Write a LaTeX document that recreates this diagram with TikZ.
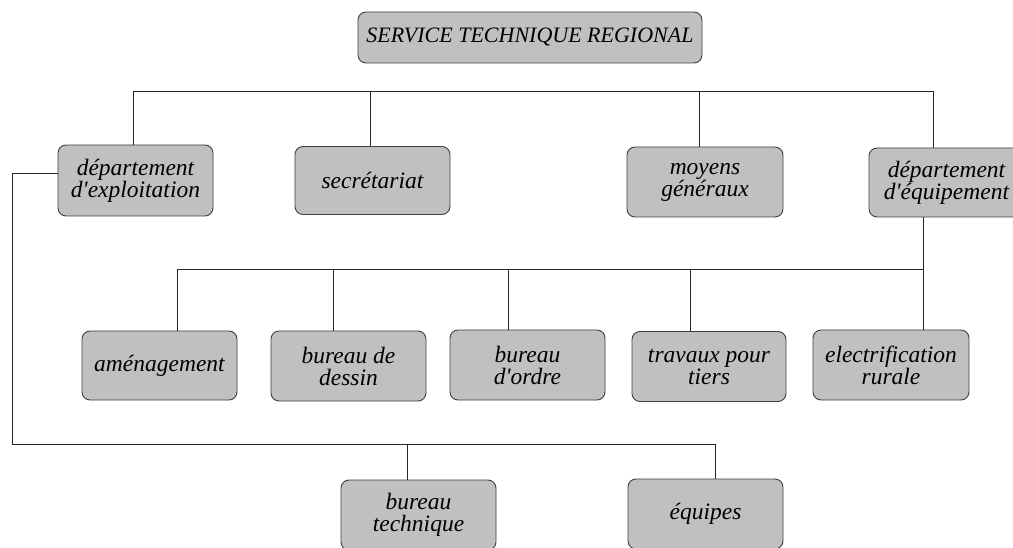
\documentclass[tikz,border=0pt]{standalone}
\usepackage{fontspec}
\setmainfont{Liberation Serif}[Ligatures=TeXOff]
\begin{document}
\begin{tikzpicture}[x=1pt,y=-1pt,
  unit/.style={draw=black!75, line width=0.9pt, fill={rgb,255:red,192;green,192;blue,192},
    rounded corners=8pt, inner sep=0pt, minimum width=155pt, minimum height=70pt,
    align=center, font=\fontsize{23.5}{22}\selectfont\itshape},
  link/.style={draw=black!85, line width=0.8pt}]
\useasboundingbox (0,0) rectangle (1013,548);

% head of the service
\node[unit, minimum width=344pt, minimum height=51pt, font=\fontsize{22}{22}\selectfont\itshape] (head) at (530,37.5) {SERVICE TECHNIQUE REGIONAL};

% first level
\node[unit, minimum height=71pt] (exploit) at (135.5,180.5) {département\\d'exploitation};
\node[unit, minimum height=68pt] (secret) at (372.5,180.5) {secrétariat};
\node[unit, minimum width=156pt] (moyens) at (705,182) {moyens\\généraux};
\node[unit, minimum height=69pt] (equip) at (946.5,182.5) {département\\d'équipement};

% units of the equipment department
\node[unit, minimum height=69pt] (amen) at (159.5,365.5) {aménagement};
\node[unit] (dessin) at (348.5,366) {bureau de\\dessin};
\node[unit] (ordre) at (527.5,365) {bureau\\d'ordre};
\node[unit, minimum width=154pt] (travaux) at (709,366.5) {travaux pour\\tiers};
\node[unit, minimum width=156pt] (electr) at (891,365) {electrification\\rurale};

% units of the operations department
\node[unit] (btech) at (418.5,515) {bureau\\technique};
\node[unit] (equipes) at (705.5,514) {équipes};

% top bus
\coordinate (t1) at (133,91);
\coordinate (t2) at (370,91);
\coordinate (t3) at (699,91);
\coordinate (t4) at (933,91);
\draw[link] (t1) -- (t4);
\draw[link] (t1) -- (t1 |- exploit.north);
\draw[link] (t2) -- (t2 |- secret.north);
\draw[link] (t3) -- (t3 |- moyens.north);
\draw[link] (t4) -- (t4 |- equip.north);

% equipment department bus
\coordinate (m1) at (177,269);
\coordinate (m2) at (333,269);
\coordinate (m3) at (508,269);
\coordinate (m4) at (690,269);
\coordinate (m5) at (923,269);
\draw[link] (m5 |- equip.south) -- (m5 |- electr.north);
\draw[link] (m1) -- (m5);
\draw[link] (m1) -- (m1 |- amen.north);
\draw[link] (m2) -- (m2 |- dessin.north);
\draw[link] (m3) -- (m3 |- ordre.north);
\draw[link] (m4) -- (m4 |- travaux.north);

% operations department bus
\coordinate (l0) at (12,173);
\coordinate (b1) at (407,444);
\coordinate (b2) at (715,444);
\draw[link] (l0 -| exploit.west) -- (l0) |- (b2);
\draw[link] (b1) -- (b1 |- btech.north);
\draw[link] (b2) -- (b2 |- equipes.north);
\end{tikzpicture}
\end{document}
